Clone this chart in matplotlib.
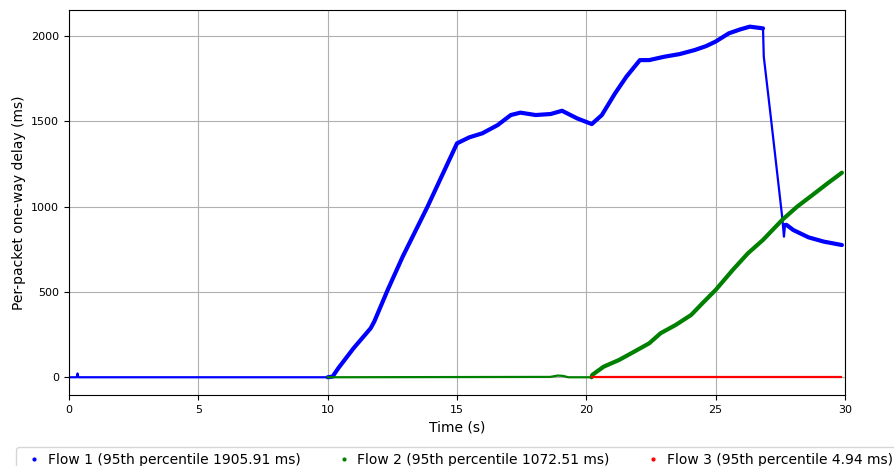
import numpy as np
import matplotlib
matplotlib.use("Agg")
import matplotlib.pyplot as plt
from matplotlib.lines import Line2D

# flow 1 (blue): idle part, then the big queue build-up
flow1_idle_t = [0.0, 0.30, 0.33, 0.36, 10.1]
flow1_idle_ms = [0, 0, 22, 0, 0]
flow1_t = [10.0, 10.19, 10.41, 11.0, 11.66, 11.80, 12.32, 12.90, 13.86, 14.37, 15.0,
           15.47, 15.98, 16.57, 17.08, 17.45, 18.04, 18.62, 19.06, 19.65, 20.21,
           20.6, 21.11, 21.55, 22.07, 22.43, 23.02, 23.6, 24.19, 24.63, 24.99,
           25.51, 25.95, 26.32, 26.83]
flow1_ms = [0, 4, 53, 170, 287, 326, 512, 707, 1000, 1166, 1371,
            1406, 1430, 1478, 1537, 1551, 1537, 1543, 1562, 1517, 1484,
            1537, 1664, 1762, 1859, 1859, 1879, 1894, 1918, 1941, 1967,
            2016, 2039, 2055, 2045]
flow1_drop_t = [26.83, 26.86, 27.13, 27.35, 27.57, 27.64, 27.68]
flow1_drop_ms = [2045, 1879, 1527, 1234, 941, 824, 893]
flow1_tail_t = [27.68, 27.74, 28.0, 28.59, 29.18, 29.88]
flow1_tail_ms = [893, 893, 863, 820, 795, 775]

# flow 2 (green)
flow2_idle_t = [10.0, 18.6, 18.9, 19.1, 19.3, 20.2]
flow2_idle_ms = [0, 2, 10, 8, 0, 0]
flow2_t = [20.2, 20.23, 20.67, 21.26, 21.85, 22.43, 22.87, 23.46, 24.05, 24.49, 25.0,
           25.66, 26.25, 26.83, 27.57, 28.15, 28.74, 29.33, 29.88]
flow2_ms = [0, 14, 62, 101, 150, 199, 258, 307, 365, 434, 512,
            629, 727, 805, 922, 1000, 1068, 1137, 1199]

# flow 3 (red)
flow3_t = [20.2, 29.85]
flow3_ms = [0, 0]

labels = ["Flow 1 (95th percentile 1905.91 ms)",
          "Flow 2 (95th percentile 1072.51 ms)",
          "Flow 3 (95th percentile 4.94 ms)"]

fig = plt.figure(figsize=(8.94, 4.66), dpi=100)
ax = fig.add_axes([0.0772, 0.152, 0.8680, 0.8263])

ax.plot(flow1_idle_t, flow1_idle_ms, color="blue", lw=1.6)
ax.plot(flow1_t, flow1_ms, color="blue", lw=3.0, solid_capstyle="round")
ax.plot(flow1_drop_t, flow1_drop_ms, color="blue", lw=1.6)
ax.plot(flow1_tail_t, flow1_tail_ms, color="blue", lw=3.0, solid_capstyle="round")
ax.plot(flow2_idle_t, flow2_idle_ms, color="green", lw=1.6)
ax.plot(flow2_t, flow2_ms, color="green", lw=3.0, solid_capstyle="round")
ax.plot(flow3_t, flow3_ms, color="red", lw=1.6)

ax.set_xlim(0, 30)
ax.set_ylim(-105, 2152)
ax.set_xticks([0, 5, 10, 15, 20, 25, 30])
ax.set_yticks([0, 500, 1000, 1500, 2000])
ax.tick_params(labelsize=8)
ax.grid(True, color="#b0b0b0", lw=0.8)
ax.set_axisbelow(True)
ax.set_xlabel("Time (s)", fontsize=10)
ax.set_ylabel("Per-packet one-way delay (ms)", fontsize=10)

handles = [Line2D([], [], ls="", marker=".", color=c, markersize=4)
           for c in ["blue", "green", "red"]]
ax.legend(handles, labels, loc="upper center", bbox_to_anchor=(0.5, -0.117),
          ncol=3, fontsize=10, columnspacing=2.2, handletextpad=0.1,
          handlelength=1.8, frameon=True, fancybox=True)

fig.savefig("out.png", dpi=100)
